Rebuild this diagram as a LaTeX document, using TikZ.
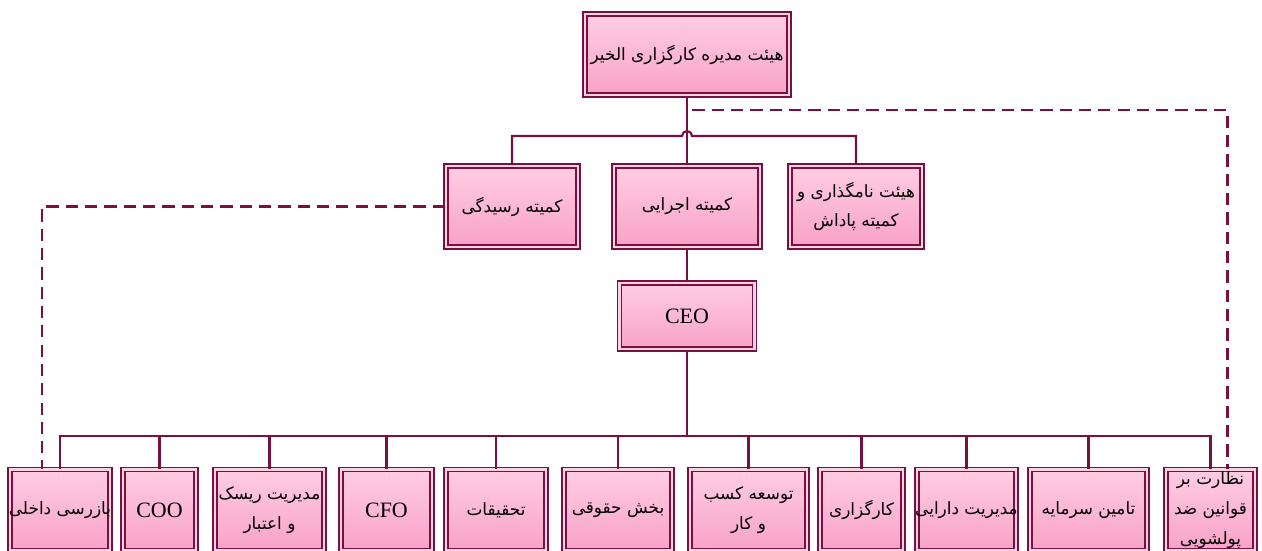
\documentclass[tikz,border=0pt]{standalone}
\usepackage{fontspec}
\setmainfont{Liberation Serif}
\newfontfamily\arabicfont[Script=Arabic, Scale=0.77]{DejaVu Sans}
\TeXXeTstate=1
\usetikzlibrary{shadows}
\definecolor{linecol}{HTML}{7A1040}
\definecolor{boxtop}{HTML}{FFCDE2}
\definecolor{boxbot}{HTML}{F8A2C8}
\definecolor{boxgap}{HTML}{F9D3E3}
\newcommand{\fa}[1]{{\arabicfont\beginR #1\endR}}
\newcommand{\wide}[1]{\makebox[0pt]{#1}}

\begin{document}
\begin{tikzpicture}[x=0.02cm, y=-0.02cm, font=\fontsize{12.5}{17}\selectfont,
box/.style={draw=linecol, line width=1pt, double=boxgap, double distance=1.3pt,
    top color=boxtop, bottom color=boxbot, align=center, inner sep=1pt,
    minimum height=81*0.02cm,
    drop shadow={shadow xshift=1.6pt, shadow yshift=-1.6pt, fill=black!60, opacity=0.35}},
link/.style={draw=linecol, line width=1.2pt},
dashlink/.style={link, dash pattern=on 7pt off 4pt}]
\useasboundingbox (0,0) rectangle (1262,551);

% board and committees
\node[box, minimum width=204*0.02cm] (board) at (687,54.5) {\fa{هیئت مدیره کارگزاری الخیر}};
\node[box, minimum width=132*0.02cm] (rc) at (512,206.5) {\fa{کمیته رسیدگی}};
\node[box, minimum width=146*0.02cm] (ec) at (687,206.5) {\fa{کمیته اجرایی}};
\node[box, minimum width=132*0.02cm] (nr) at (856,206.5) {\fa{هیئت نامگذاری و}\\\fa{کمیته پاداش}};
\node[box, minimum width=135*0.02cm, minimum height=66*0.02cm] (ceo) at (687,316) {CEO};

% departments
\begin{scope}[every node/.append style={minimum height=84*0.02cm}]
\node[box, minimum width=100*0.02cm] (b1) at (60,510) {\wide{\fa{بازرسی داخلی}}};
\node[box, minimum width=73*0.02cm] (b2) at (159.5,510) {COO};
\node[box, minimum width=109*0.02cm] (b3) at (269.5,510) {\fa{مدیریت ریسک}\\\fa{و اعتبار}};
\node[box, minimum width=91*0.02cm] (b4) at (386.5,510) {CFO};
\node[box, minimum width=100*0.02cm] (b5) at (496,510) {\fa{تحقیقات}};
\node[box, minimum width=108*0.02cm] (b6) at (618,510) {\fa{بخش حقوقی}};
\node[box, minimum width=117*0.02cm] (b7) at (748.5,510) {\fa{توسعه کسب}\\\fa{و کار}};
\node[box, minimum width=83*0.02cm] (b8) at (861.5,510) {\fa{کارگزاری}};
\node[box, minimum width=99*0.02cm] (b9) at (966.5,510) {\wide{\fa{مدیریت دارایی}}};
\node[box, minimum width=117*0.02cm] (b10) at (1088.5,510) {\fa{تامین سرمایه}};
\node[box, minimum width=89*0.02cm] (b11) at (1210.5,510) {\fa{نظارت بر}\\\fa{قوانین ضد}\\\fa{پولشویی}};
\end{scope}

\coordinate (hopl) at (682,136);
\coordinate (bus) at (687,436);

% connectors
\draw[link] (board.south) -- (ec.north);
\draw[link] (rc.north) |- (hopl) arc (180:360:5) -| (nr.north);
\draw[link] (ec.south) -- (ceo.north);
\draw[link] (ceo.south) -- (bus);
\foreach \i in {1,...,11}
  \draw[link] (bus) -| (b\i.north);
\draw[dashlink] (rc.west) -| ([xshift=-18*0.02cm]b1.north);
\draw[dashlink] (board.south) -- ++(0,14) -| ([xshift=17*0.02cm]b11.north);
\end{tikzpicture}
\end{document}
